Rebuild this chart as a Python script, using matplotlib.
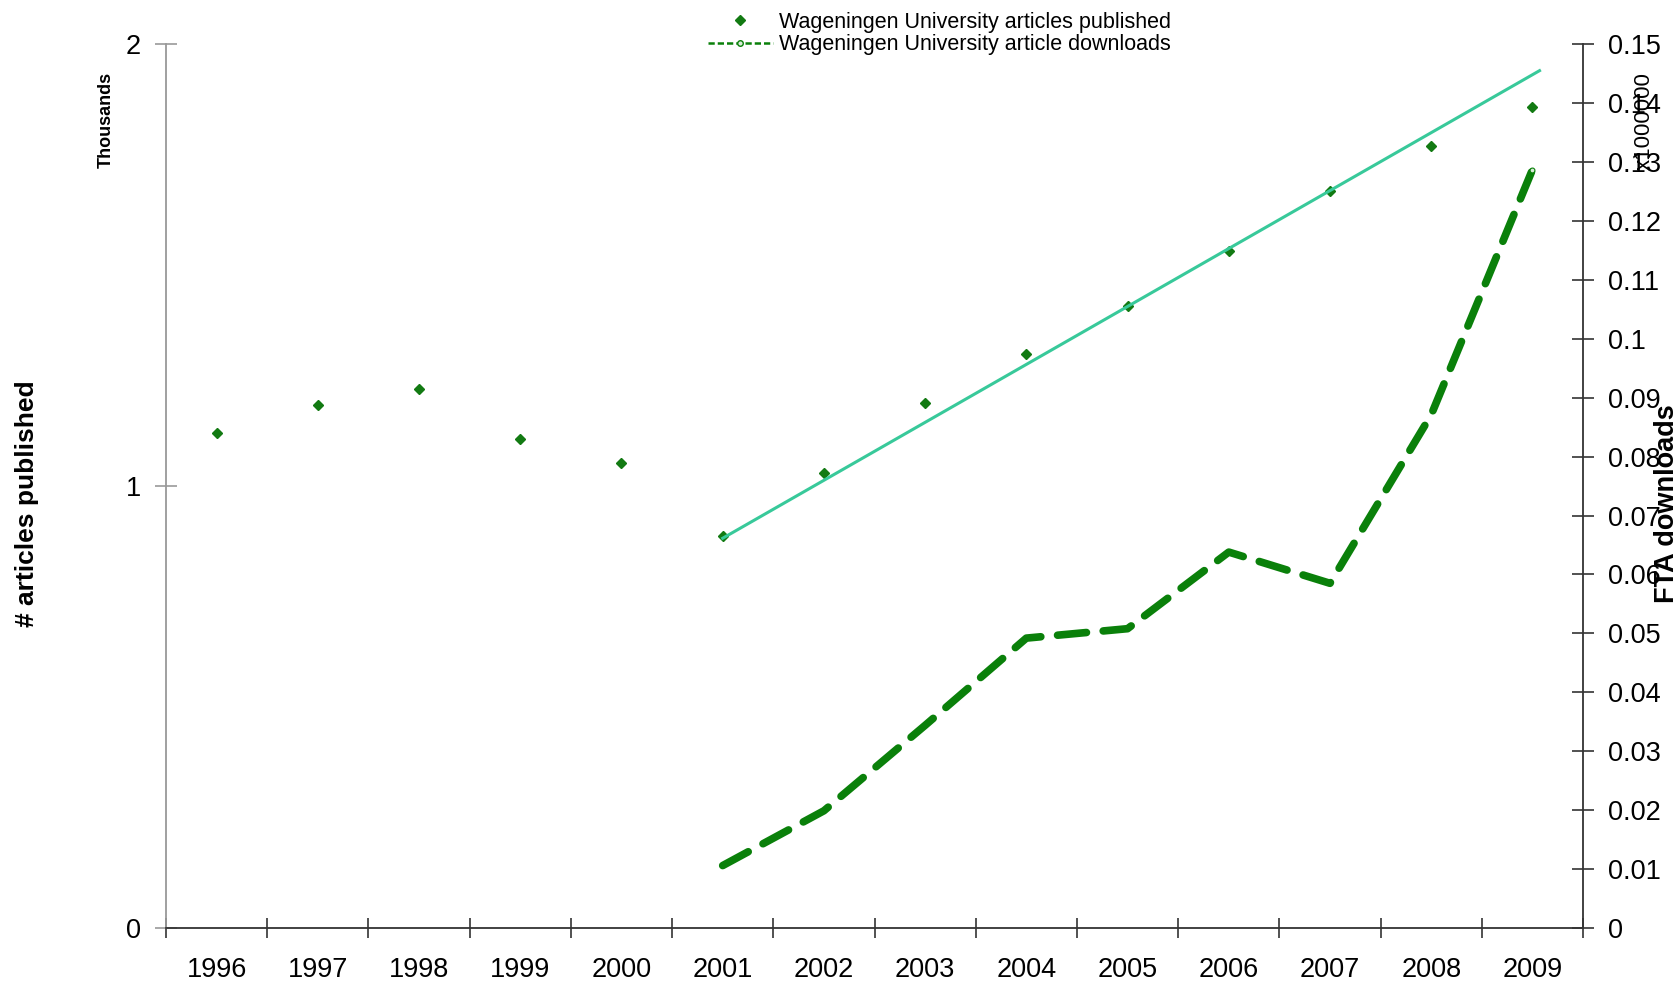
import matplotlib
matplotlib.use("Agg")
import matplotlib.pyplot as plt
from matplotlib.lines import Line2D
from matplotlib.ticker import FixedLocator, FuncFormatter, NullFormatter

plt.rcParams['font.family'] = ['Liberation Sans', 'DejaVu Sans']

# data
years = [1996, 1997, 1998, 1999, 2000, 2001, 2002, 2003, 2004, 2005, 2006, 2007, 2008, 2009]
articles = [1.120, 1.183, 1.220, 1.106, 1.052, 0.887, 1.030, 1.188, 1.298, 1.407, 1.533, 1.667, 1.769, 1.857]

dl_years = [2001, 2002, 2003, 2004, 2005, 2006, 2007, 2008, 2009]
downloads = [0.0106, 0.0199, 0.0344, 0.0492, 0.0508, 0.0638, 0.0585, 0.0871, 0.1287]

# trendline (as drawn in the original)
trend_years = [2001, 2009.07]
trend_vals = [0.882, 1.940]

fig = plt.figure(figsize=(16.8, 9.81), dpi=100)
ax = fig.add_axes([0.0988, 0.054, 0.8435, 0.901])

ax.plot(years, articles, linestyle='none', marker='D', markersize=5.5,
        color='#127a12')
ax.plot(trend_years, trend_vals, color='#38c99a', linewidth=2.2)

ax.set_xlim(1995.5, 2009.5)
ax.set_ylim(0, 2)
ax.set_yticks([0, 1, 2])
ax.set_yticklabels(['0', '1', '2'])
ax.xaxis.set_major_locator(FixedLocator([y + 0.5 for y in range(1995, 2010)]))
ax.xaxis.set_major_formatter(NullFormatter())
ax.xaxis.set_minor_locator(FixedLocator(years))
ax.xaxis.set_minor_formatter(FuncFormatter(lambda v, p: str(int(round(v)))))
ax.tick_params(axis='x', which='minor', length=0, labelsize=19.5, pad=21)
ax.tick_params(axis='x', which='major', direction='inout', length=14, width=1.2, color='#333333')
ax.tick_params(axis='y', direction='inout', length=16, width=1.2, color='#999999',
               labelsize=19.5, pad=10)

ax.spines['top'].set_visible(False)
ax.spines['left'].set_color('#999999')
ax.spines['left'].set_linewidth(1.3)
ax.spines['bottom'].set_color('#333333')
ax.spines['bottom'].set_linewidth(1.3)
ax.spines['right'].set_visible(False)

ax2 = ax.twinx()
ax2.plot(dl_years, downloads, color='#0a800a', linewidth=5.5, dashes=(3.8, 2.2),
         dash_capstyle='round', marker='o', markersize=3.5, markevery=[len(dl_years) - 1],
         markerfacecolor='#d8ecd8', markeredgecolor='#0a800a', markeredgewidth=0.8)
ax2.set_ylim(0, 0.15)
ax2.set_yticks([i / 100 for i in range(16)])
ax2.yaxis.set_major_formatter(FuncFormatter(lambda v, p: '%g' % round(v, 2)))
ax2.tick_params(axis='y', direction='inout', length=16, width=1.2, color='#333333',
                labelsize=19.5, pad=10)
ax2.spines['top'].set_visible(False)
ax2.spines['left'].set_visible(False)
ax2.spines['bottom'].set_visible(False)
ax2.spines['right'].set_color('#333333')
ax2.spines['right'].set_linewidth(1.3)

# axis titles
fig.text(0.016, 0.487, '# articles published', rotation=90, ha='center', va='center',
         fontsize=19, fontweight='bold')
fig.text(0.0635, 0.878, 'Thousands', rotation=90, ha='center', va='center',
         fontsize=13, fontweight='bold')
fig.text(0.992, 0.487, 'FTA downloads', rotation=90, ha='center', va='center',
         fontsize=19.5, fontweight='bold')
fig.text(0.979, 0.877, 'x1000000', rotation=90, ha='center', va='center',
         fontsize=16)

# legend (thin dashed sample as in the original)
handles = [
    Line2D([], [], linestyle='none', marker='D', markersize=5, color='#127a12'),
    Line2D([], [], color='#0a800a', linewidth=1.8, dashes=(2.5, 1.2), marker='o',
           markersize=4, markerfacecolor='#d8ecd8', markeredgecolor='#0a800a'),
]
labels = ['Wageningen University articles published',
          'Wageningen University article downloads']
fig.legend(handles, labels, loc='upper left', bbox_to_anchor=(0.41, 1.008),
           frameon=False, fontsize=15.5, handlelength=3.0, handletextpad=0.3,
           labelspacing=0.08)

fig.savefig('out.png', dpi=100)
